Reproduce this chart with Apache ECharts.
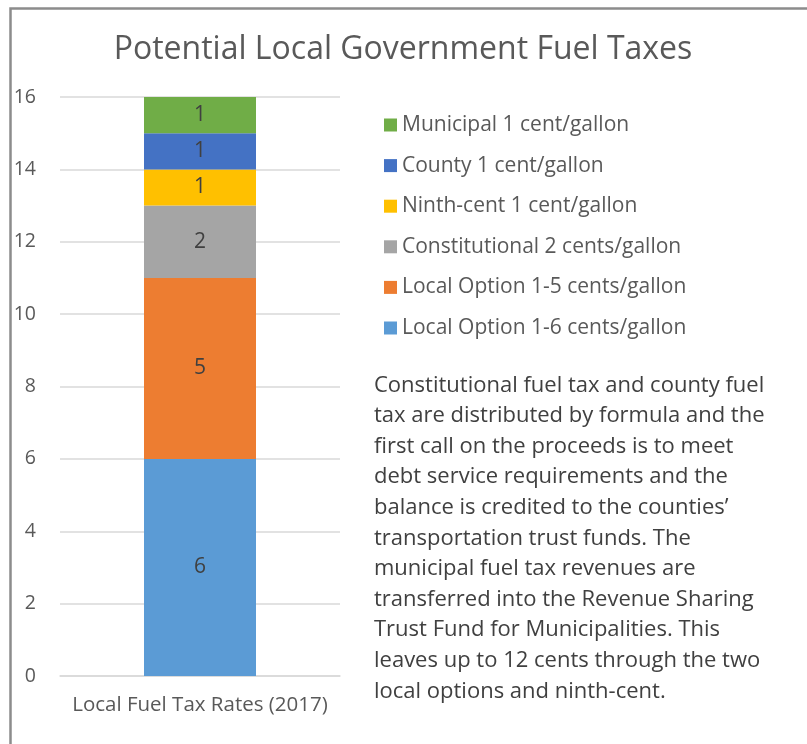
<!DOCTYPE html>
<html>
<head>
<meta charset="utf-8">
<script src="https://cdn.jsdelivr.net/npm/echarts@6/dist/echarts.min.js"></script>
<style>
  html, body { margin: 0; padding: 0; background: #fff; }
  #chart { width: 807px; height: 744px; }
</style>
</head>
<body>
<div id="chart"></div>
<script>
// data
var categories = ['Local Fuel Tax Rates (2017)'];
var seriesNames = [
    'Local Option 1-6 cents/gallon',
    'Local Option 1-5 cents/gallon',
    'Constitutional 2 cents/gallon',
    'Ninth-cent 1 cent/gallon',
    'County 1 cent/gallon',
    'Municipal 1 cent/gallon'
];
var seriesValues = [[6], [5], [2], [1], [1], [1]];
var seriesColors = ['#5B9BD5', '#ED7D31', '#A5A5A5', '#FFC000', '#4472C4', '#70AD47'];
var noteLines = [
    'Constitutional fuel tax and county fuel',
    'tax are distributed by formula and the',
    'first call on the proceeds is to meet',
    'debt service requirements and the',
    'balance is credited to the counties\u2019',
    'transportation trust funds. The',
    'municipal fuel tax revenues are',
    'transferred into the Revenue Sharing',
    'Trust Fund for Municipalities. This',
    'leaves up to 12 cents through the two',
    'local options and ninth-cent.'
];

var font = '"Open Sans", "DejaVu Sans", sans-serif';
var chart = echarts.init(document.getElementById('chart'));

var series = [];
for (var i = 0; i < seriesNames.length; i++) {
    series.push({
        name: seriesNames[i],
        type: 'bar',
        stack: 'total',
        barWidth: '40%',
        data: seriesValues[i],
        itemStyle: { color: seriesColors[i] },
        label: {
            show: true,
            position: 'inside',
            color: '#404040',
            fontSize: 21,
            fontFamily: font
        }
    });
}

var option = {
    animation: false,
    title: {
        text: 'Potential Local Government Fuel Taxes',
        left: 398,
        top: 29,
        textAlign: 'center',
        textStyle: {
            fontFamily: font,
            fontSize: 32,
            fontWeight: 'normal',
            color: '#595959'
        }
    },
    legend: {
        orient: 'vertical',
        left: 379,
        top: 109,
        itemWidth: 13,
        itemHeight: 13,
        itemGap: 18.6,
        icon: 'rect',
        data: seriesNames.slice().reverse(),
        textStyle: {
            fontFamily: font,
            fontSize: 21,
            lineHeight: 22,
            color: '#595959'
        }
    },
    grid: {
        left: 60,
        right: 467,
        top: 97,
        bottom: 68
    },
    xAxis: {
        type: 'category',
        data: categories,
        axisLine: { lineStyle: { color: '#d9d9d9', width: 1.5 } },
        axisTick: { show: false },
        axisLabel: {
            fontFamily: font,
            fontSize: 20.5,
            color: '#595959',
            margin: 19
        }
    },
    yAxis: {
        type: 'value',
        min: 0,
        max: 16,
        interval: 2,
        axisLine: { show: false },
        axisTick: { show: false },
        splitLine: { lineStyle: { color: '#d9d9d9', width: 1.5 } },
        axisLabel: {
            fontFamily: font,
            fontSize: 19.5,
            color: '#595959',
            margin: 24
        }
    },
    graphic: [
        {
            type: 'rect',
            left: 8,
            top: 6,
            shape: { width: 900, height: 900 },
            style: { fill: 'none', stroke: '#8c8c8c', lineWidth: 2.5 },
            silent: true
        },
        {
            type: 'text',
            left: 374,
            top: 370,
            style: {
                text: noteLines.join('\n'),
                fontFamily: font,
                fontSize: 22,
                lineHeight: 30.6,
                fill: '#404040'
            }
        }
    ],
    series: series
};

chart.setOption(option);
</script>
</body>
</html>
